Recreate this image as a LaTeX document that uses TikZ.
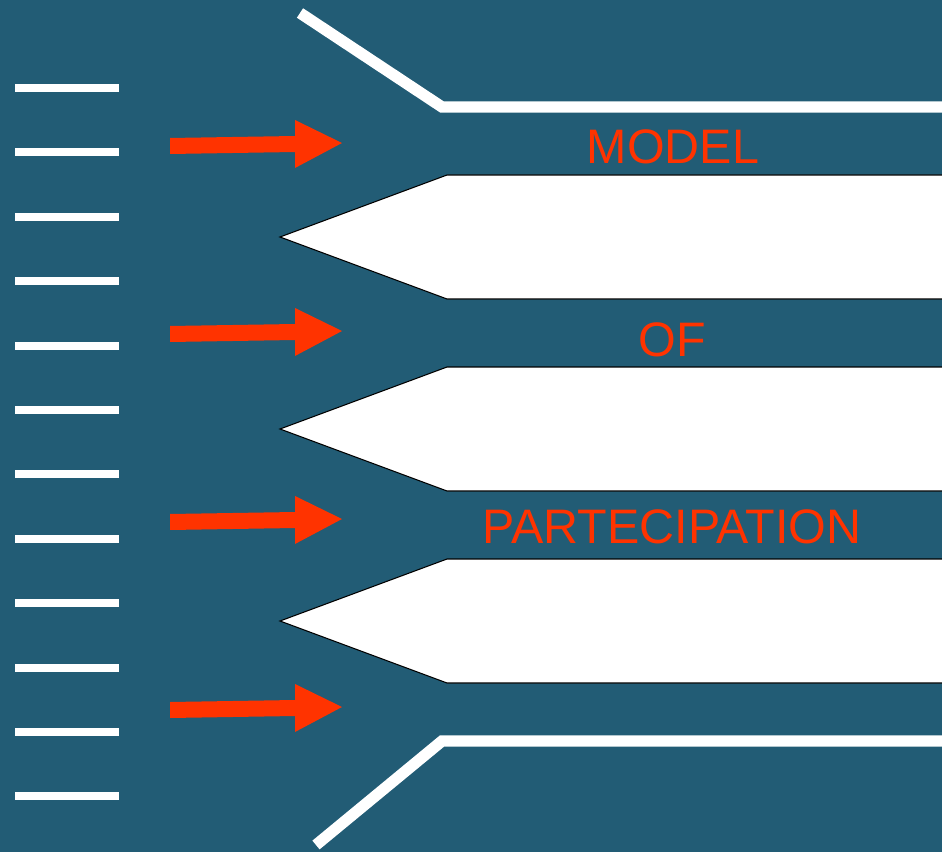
\documentclass[tikz,border=0pt]{standalone}
\usepackage{fontspec}
\setmainfont{Liberation Sans}
\definecolor{bgteal}{HTML}{225C75}
\definecolor{arrowred}{HTML}{FF3300}
\tikzset{
  wall/.style={white, line width=8.5pt},
  band/.style={fill=white, draw=black, line width=0.8pt},
  word/.style={text=arrowred, font=\fontsize{36.3}{36.3}\selectfont}
}
\begin{document}
\begin{tikzpicture}[x=0.75pt, y=-0.75pt]

  % Background
  \fill[bgteal] (0,0) rectangle (942,852);
  \useasboundingbox (0,0) rectangle (942,852);

  % Dashes on the left
  \foreach \i in {0,...,11} {
    \draw[white, line width=6pt] (15,{88+64.4*\i}) -- (119,{88+64.4*\i});
  }

  % Red arrows
  \foreach \t in {143,331,519,707} {
    \fill[arrowred] (170,\t-5) -- (295,\t-7) -- (295,\t-23) -- (342,\t)
      -- (295,\t+25) -- (295,\t+9) -- (170,\t+11) -- cycle;
  }

  % Funnel walls
  \draw[wall] (300,13) -- (442,107) -- (942,107);
  \draw[wall] (316,845) -- (442,741) -- (942,741);

  % Pointed white bands
  \foreach \y in {237,429,621} {
    \filldraw[band] (943,\y-62) -- (447,\y-62) -- (280,\y)
      -- (447,\y+62) -- (943,\y+62);
  }

  % Labels
  \node[word] (model) at (673,147) {MODEL};
  \node[word] (of) at (672,340) {OF};
  \node[word] (partecipation) at (672,527) {PARTECIPATION};

\end{tikzpicture}
\end{document}
